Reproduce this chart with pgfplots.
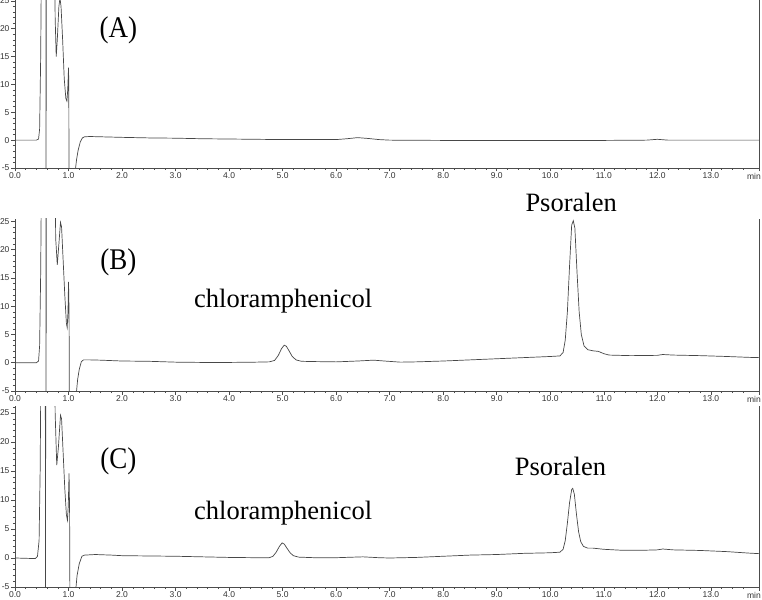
\documentclass[border=0pt]{standalone}
\usepackage{fontspec}
\setmainfont{Liberation Serif}
\setsansfont{Liberation Sans}
\usepackage{pgfplots}
\pgfplotsset{compat=1.18}
\pgfplotsset{chrom/.style={
  scale only axis, width=744pt, xmin=0, xmax=13.9, ymin=-5,
  axis x line*=bottom, axis y line*=left,
  xtick align=outside, ytick align=outside,
  xtick={0,1,2,3,4,5,6,7,8,9,10,11,12,13},
  xticklabels={0.0,1.0,2.0,3.0,4.0,5.0,6.0,7.0,8.0,9.0,10.0,11.0,12.0,13.0},
  extra x ticks={13.9}, extra x tick labels={min},
  extra x tick style={xticklabel style={xshift=-5pt}},
  minor xtick={0.2,0.4,0.6,0.8,1.2,1.4,1.6,1.8,2.2,2.4,2.6,2.8,3.2,3.4,3.6,3.8,4.2,4.4,4.6,4.8,5.2,5.4,5.6,5.8,6.2,6.4,6.6,6.8,7.2,7.4,7.6,7.8,8.2,8.4,8.6,8.8,9.2,9.4,9.6,9.8,10.2,10.4,10.6,10.8,11.2,11.4,11.6,11.8,12.2,12.4,12.6,12.8,13.2,13.4,13.6},
  ytick={-5,0,5,10,15,20,25}, yticklabels={-5,0,5,10,15,20,25},
  minor ytick={-4,-3,-2,-1,1,2,3,4,6,7,8,9,11,12,13,14,16,17,18,19,21,22,23,24,26},
  major tick length=3.5pt, minor tick length=2pt,
  tick label style={font=\fontsize{8.5}{9}\selectfont\sffamily, text=black!80},
  yticklabel style={xshift=1.5pt},
  xticklabel style={yshift=2pt},
  axis line style={black!70, line width=0.6pt, -},
  tick style={black!70, line width=0.5pt},
  clip mode=individual,
}, trace/.style={line width=0.7pt, black!72, no markers}}
\begin{document}
\begin{tikzpicture}
\path[use as bounding box] (0pt,0pt) rectangle (762pt,-599pt);
% ---------------- (A)
\begin{axis}[chrom, at={(15pt,-168pt)}, anchor=south west, height=168pt, ymax=25.15]
\addplot[trace] coordinates {(0,0) (0.2,0) (0.4,0) (0.44,0.2) (0.46,2) (0.48,15) (0.50,40) (0.56,60) (0.575,60) (0.58,-30) (0.585,60) (0.72,60) (0.75,22) (0.77,15) (0.79,18) (0.82,24) (0.84,25.5) (0.86,24) (0.89,18) (0.92,11) (0.95,7.5) (0.97,7) (0.985,9) (1.0,13) (1.005,10) (1.015,-30) (1.10,-30) (1.12,-6) (1.15,-3.5) (1.18,-1.8) (1.22,-0.3) (1.26,0.4) (1.30,0.6) (1.40,0.65) (1.6,0.6) (2.0,0.5) (2.5,0.4) (3.0,0.35) (3.5,0.25) (4.0,0.2) (4.5,0.15) (5.0,0.1) (5.5,0.1) (6.0,0.1) (6.2,0.25) (6.4,0.45) (6.6,0.3) (6.8,0.1) (7.0,0.0) (8,-0.05) (9,-0.05) (10,-0.05) (11,-0.05) (11.8,0.0) (12.0,0.15) (12.2,0.0) (13,0) (13.9,0)};
\draw[black!70, line width=0.6pt] (rel axis cs:1,0) -- (rel axis cs:1,1);
\node[font=\fontsize{30}{34}\selectfont, xscale=0.9] at (axis cs:1.93,19.7) {(A)};
\end{axis}
% ---------------- (B)
\begin{axis}[chrom, at={(15pt,-391pt)}, anchor=south west, height=172pt, ymax=25.4]
\addplot[trace] coordinates {(0,0) (0.4,0) (0.44,0.3) (0.46,3) (0.48,16) (0.50,40) (0.575,60) (0.58,-30) (0.585,60) (0.73,60) (0.76,22) (0.79,17.3) (0.82,21) (0.85,24.8) (0.87,24) (0.90,18) (0.93,12) (0.96,7) (0.975,6.2) (0.99,9) (1.0,14.3) (1.01,9) (1.025,-30) (1.12,-30) (1.14,-6) (1.17,-3) (1.20,-1.2) (1.24,0.2) (1.28,0.5) (1.4,0.5) (1.6,0.45) (2.0,0.3) (2.5,0.25) (3.0,0.1) (3.5,0.05) (4.0,0.05) (4.5,0.1) (4.75,0.15) (4.85,0.4) (4.92,1.3) (4.98,2.5) (5.03,3.1) (5.07,2.9) (5.12,2.1) (5.18,1.1) (5.25,0.5) (5.35,0.25) (5.6,0.2) (6.0,0.15) (6.4,0.3) (6.7,0.45) (6.9,0.3) (7.2,0.1) (7.5,0.15) (8.0,0.3) (8.5,0.5) (9.0,0.7) (9.5,0.9) (10.0,1.1) (10.18,1.2) (10.24,1.8) (10.28,4) (10.32,9) (10.36,17) (10.40,24.3) (10.43,25.1) (10.46,23.8) (10.50,16) (10.54,9) (10.58,5) (10.63,3) (10.7,2.3) (10.8,2.1) (10.9,2.0) (11.0,1.6) (11.1,1.35) (11.5,1.25) (12.0,1.3) (12.1,1.45) (12.3,1.35) (12.8,1.25) (13.3,1.1) (13.7,0.95) (13.9,0.9)};
\draw[black!70, line width=0.6pt] (rel axis cs:1,0) -- (rel axis cs:1,1);
\node[font=\fontsize{30}{34}\selectfont, xscale=0.9] at (axis cs:1.93,17.8) {(B)};
\node[font=\fontsize{26.5}{30}\selectfont] at (axis cs:5.01,10.8) {chloramphenicol};
\node[font=\fontsize{26.5}{30}\selectfont] at (axis cs:10.39,28.4) {Psoralen};
\end{axis}
% ---------------- (C)
\begin{axis}[chrom, at={(15pt,-587pt)}, anchor=south west, height=181pt, ymax=26.2]
\addplot[trace] coordinates {(0,0) (0.38,-0.1) (0.42,0.3) (0.45,3) (0.47,15) (0.49,40) (0.565,60) (0.57,-30) (0.575,60) (0.72,60) (0.75,25) (0.78,16) (0.81,19) (0.85,24.6) (0.87,24) (0.90,18) (0.93,12) (0.96,7.5) (0.98,6.5) (0.995,9) (1.01,14.6) (1.02,8) (1.035,-30) (1.11,-30) (1.13,-6) (1.16,-3) (1.20,-1) (1.25,0.3) (1.30,0.5) (1.5,0.6) (1.8,0.5) (2.0,0.4) (2.5,0.35) (3.0,0.3) (3.5,0.2) (4.0,0.1) (4.5,0.05) (4.75,0.05) (4.82,0.3) (4.88,1.0) (4.94,2.0) (4.99,2.6) (5.03,2.4) (5.08,1.7) (5.14,0.9) (5.2,0.4) (5.3,0.15) (5.6,0.05) (6.0,0.05) (6.5,0.2) (6.8,0.05) (7.0,0.0) (7.5,0.1) (8.0,0.3) (8.5,0.5) (9.0,0.6) (9.5,0.8) (10.0,0.9) (10.18,1.0) (10.24,1.5) (10.28,3.0) (10.32,6.0) (10.36,9.5) (10.40,11.8) (10.42,12.0) (10.45,11) (10.49,7.5) (10.53,4.5) (10.57,2.8) (10.62,2.0) (10.7,1.7) (10.8,1.7) (10.9,1.6) (11.0,1.5) (11.3,1.35) (11.8,1.35) (12.0,1.4) (12.1,1.55) (12.3,1.4) (12.8,1.3) (13.3,1.1) (13.7,0.85) (13.9,0.75)};
\draw[black!70, line width=0.6pt] (rel axis cs:1,0) -- (rel axis cs:1,1);
\node[font=\fontsize{30}{34}\selectfont, xscale=0.9] at (axis cs:1.93,16.7) {(C)};
\node[font=\fontsize{26.5}{30}\selectfont] at (axis cs:5.01,7.8) {chloramphenicol};
\node[font=\fontsize{26.5}{30}\selectfont] at (axis cs:10.19,15.7) {Psoralen};
\end{axis}
\end{tikzpicture}
\end{document}
